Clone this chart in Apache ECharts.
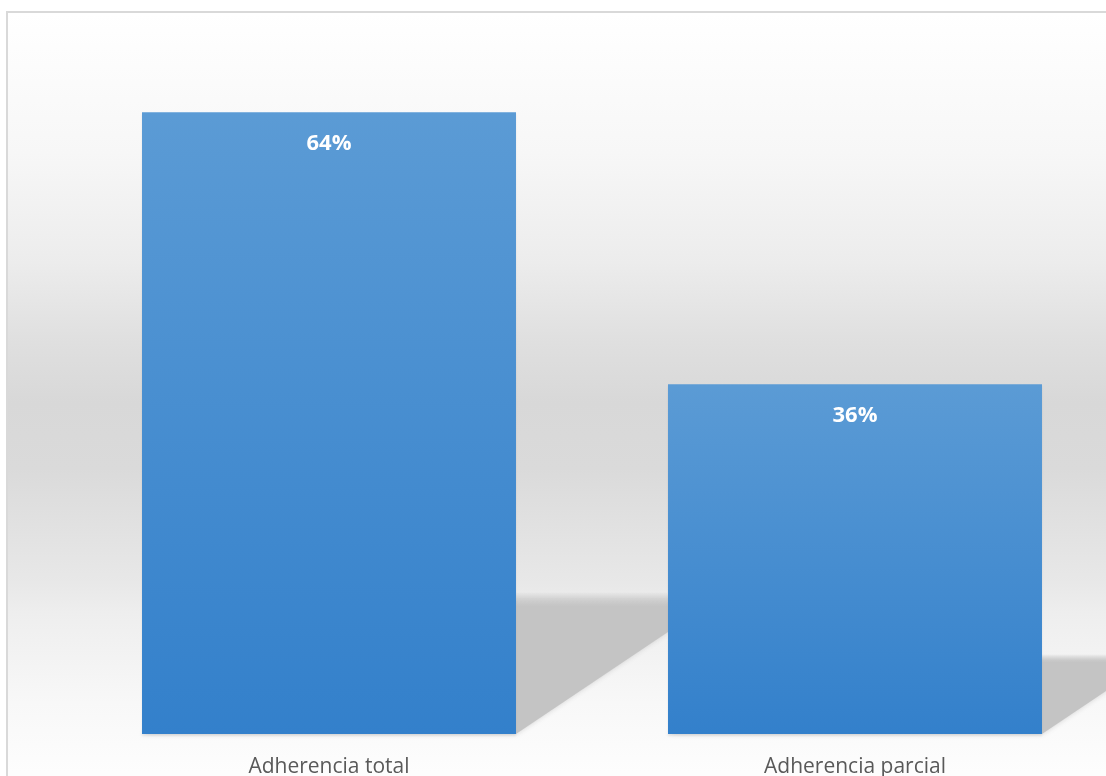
<!DOCTYPE html>
<html>
<head>
<meta charset="utf-8">
<script src="https://cdn.jsdelivr.net/npm/echarts@6/dist/echarts.min.js"></script>
<style>
  html, body { margin: 0; padding: 0; width: 1106px; height: 776px; overflow: hidden; background: #ffffff; }
  #frame {
    position: absolute; left: 6px; top: 11px;
    width: 1120px; height: 780px;
    border: 2px solid #d9d9d9;
    background: linear-gradient(to bottom,
      #ffffff 0px, #f7f7f7 140px, #ececec 250px, #dfdfdf 330px,
      #d8d8d8 390px, #dadada 455px, #e2e2e2 520px, #e8e8e8 570px,
      #eeeeee 600px, #f8f8f8 690px, #fdfdfd 760px);
  }
  #chart { width: 1120px; height: 780px; }
</style>
</head>
<body>
<div id="frame"><div id="chart"></div></div>
<script>
// Adherence share by category
const categories = ['Adherencia total', 'Adherencia parcial'];
const values = [64, 36];
const valueLabels = ['64%', '36%'];

const BAR_RATIO = 0.711;

const chart = echarts.init(document.getElementById('chart'), null, { renderer: 'canvas' });

// Perspective floor shadow cast behind each bar, skewed to the right
function renderShadow(params, api) {
  const idx = api.value(0);
  const v = api.value(1);
  const top = api.coord([idx, v]);
  const base = api.coord([idx, 0]);
  const band = api.size([1, 0])[0];
  const bw = band * BAR_RATIO;
  const x0 = base[0] - bw / 2;
  const x1 = base[0] + bw / 2;
  const yb = base[1];
  const sh = (yb - top[1]) * 0.228;
  const dx = sh * 1.49;
  return {
    type: 'polygon',
    shape: { points: [[x0, yb], [x1, yb], [x1 + dx, yb - sh], [x0 + dx, yb - sh]] },
    style: {
      fill: new echarts.graphic.LinearGradient(0, 0, 0, 1, [
        { offset: 0, color: 'rgba(196,196,196,0)' },
        { offset: 0.1, color: 'rgba(196,196,196,1)' },
        { offset: 1, color: 'rgba(196,196,196,1)' }
      ]),
      shadowBlur: 5,
      shadowColor: 'rgba(196,196,196,0.7)'
    },
    z2: 0
  };
}

chart.setOption({
  animation: false,
  backgroundColor: 'transparent',
  grid: { left: 58, width: 1052, top: 41, height: 680, containLabel: false },
  xAxis: {
    type: 'category',
    data: categories,
    boundaryGap: true,
    axisLine: { show: false },
    axisTick: { show: false },
    axisLabel: {
      color: '#595959',
      fontFamily: 'Open Sans',
      fontSize: 21,
      margin: 23
    }
  },
  yAxis: {
    type: 'value',
    min: 0,
    max: 70,
    show: false,
    splitLine: { show: false }
  },
  series: [
    {
      type: 'custom',
      renderItem: renderShadow,
      data: values.map((v, i) => [i, v]),
      encode: { x: 0, y: 1 },
      z: 1,
      silent: true
    },
    {
      type: 'bar',
      data: values,
      barWidth: (BAR_RATIO * 100) + '%',
      z: 2,
      itemStyle: {
        color: new echarts.graphic.LinearGradient(0, 0, 0, 1, [
          { offset: 0, color: '#5b9bd5' },
          { offset: 1, color: '#3380cb' }
        ]),
        shadowColor: 'rgba(0,0,0,0.07)',
        shadowBlur: 2,
        shadowOffsetY: 2
      },
      label: {
        show: true,
        position: 'insideTop',
        distance: 19,
        color: '#ffffff',
        fontFamily: 'Open Sans',
        fontWeight: 'bold',
        fontSize: 22,
        lineHeight: 24,
        formatter: (p) => valueLabels[p.dataIndex]
      }
    }
  ]
});
</script>
</body>
</html>
